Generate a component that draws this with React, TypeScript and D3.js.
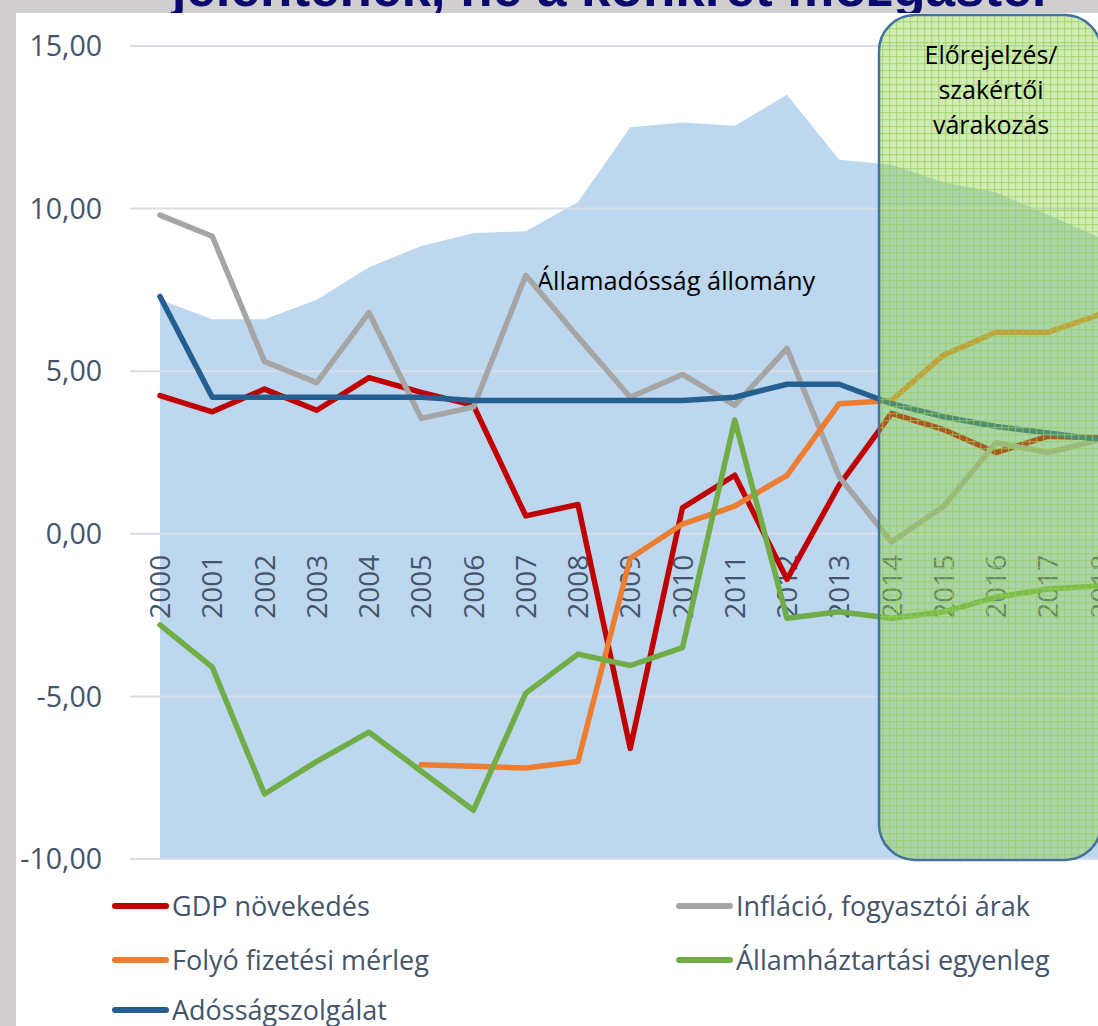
import React from 'react'
import * as d3 from 'd3'

const years = ['2000','2001','2002','2003','2004','2005','2006','2007','2008','2009','2010','2011','2012','2013','2014','2015','2016','2017','2018']

// Államadósság állomány (drawn as area on the same scale)
const debtStock = [7.2, 6.6, 6.6, 7.2, 8.2, 8.85, 9.25, 9.3, 10.2, 12.5, 12.65, 12.55, 13.5, 11.5, 11.35, 10.8, 10.5, 9.8, 9.1]
const gdp = [4.25, 3.75, 4.45, 3.8, 4.8, 4.35, 3.95, 0.55, 0.9, -6.6, 0.8, 1.8, -1.4, 1.5, 3.7, 3.2, 2.5, 3.0, 2.95]
const inflation = [9.8, 9.15, 5.3, 4.65, 6.8, 3.55, 3.9, 7.95, 6.05, 4.2, 4.9, 3.95, 5.7, 1.75, -0.25, 0.85, 2.8, 2.5, 2.9]
const currentAccount = [null, null, null, null, null, -7.1, -7.15, -7.2, -7.0, -0.75, 0.3, 0.85, 1.8, 4.0, 4.1, 5.5, 6.2, 6.2, 6.75]
const budget = [-2.8, -4.1, -8.0, -7.0, -6.1, -7.3, -8.5, -4.9, -3.7, -4.05, -3.5, 3.5, -2.6, -2.4, -2.6, -2.4, -1.95, -1.7, -1.6]
const debtService = [7.3, 4.2, 4.2, 4.2, 4.2, 4.2, 4.1, 4.1, 4.1, 4.1, 4.1, 4.2, 4.6, 4.6, 4.0, 3.6, 3.3, 3.1, 2.9]

const yTicks = [15, 10, 5, 0, -5, -10]

const series = [
  { name: 'GDP növekedés', values: gdp, color: '#C00000' },
  { name: 'Infláció, fogyasztói árak', values: inflation, color: '#A5A5A5' },
  { name: 'Folyó fizetési mérleg', values: currentAccount, color: '#ED7D31' },
  { name: 'Államháztartási egyenleg', values: budget, color: '#70AD47' },
  { name: 'Adósságszolgálat', values: debtService, color: '#255E91' },
]

const W = 1098
const H = 1026
const font = '"Open Sans", "Noto Sans", sans-serif'

export default function App() {
  const x = d3.scalePoint<string>().domain(years).range([160, 160 + 18 * 52.25])
  const y = d3.scaleLinear().domain([-10, 15]).range([859, 46])

  const area = d3.area<number>()
    .x((d, i) => x(years[i])!)
    .y0(y(-10))
    .y1(d => y(d))

  const line = d3.line<number | null>()
    .defined(d => d != null)
    .x((d, i) => x(years[i])!)
    .y(d => y(d as number))

  const fmt = (v: number) => d3.format('.2f')(v).replace('.', ',').replace('−', '-')

  const legendPos = [
    [112, 906], [676, 906], [112, 960], [676, 960], [112, 1010],
  ]

  return (
    <svg width={W} height={H} style={{ display: 'block', position: 'absolute', left: 0, top: 0 }}>
      <defs>
        <pattern id="grid" width="7" height="7" patternUnits="userSpaceOnUse">
          <rect width="7" height="7" fill="rgba(146,208,80,0.42)" />
          <rect x="0" y="0" width="1.2" height="7" fill="rgba(146,208,80,0.6)" />
          <rect x="0" y="0" width="7" height="1.2" fill="rgba(146,208,80,0.6)" />
        </pattern>
      </defs>
      <rect width={W} height={H} fill="#D0CECE" />
      <text x={612} y={6} textAnchor="middle" fontFamily="Liberation Sans, Arial, sans-serif"
        fontWeight="bold" fontSize={53} fill="#0A0A6E">jelentenek, ne a konkrét mozgástér</text>
      <rect x={16} y={13} width={W - 16} height={H - 13} fill="#FFFFFF" />

      <path d={area(debtStock) || ''} fill="#BDD7EE" />

      {yTicks.map(t => (
        <g key={t}>
          <line x1={130} x2={W} y1={y(t)} y2={y(t)} stroke="#D9DEE6" strokeWidth={2} />
          <text x={102} y={y(t)} dy="0.36em" textAnchor="end" fontFamily={font} fontSize={28.5} fill="#44546A">
            {fmt(t)}
          </text>
        </g>
      ))}

      {years.map(yr => (
        <text key={yr} transform={`translate(${x(yr)! + 10},${y(0) + 21}) rotate(-90)`} textAnchor="end"
          fontFamily={font} fontSize={28} fill="#44546A">{yr}</text>
      ))}

      <text x={537} y={290} fontFamily={font} fontSize={25.4} fill="#000">Államadósság állomány</text>

      {series.map(s => (
        <path key={s.name} d={line(s.values) || ''} fill="none" stroke={s.color} strokeWidth={5.5}
          strokeLinejoin="round" strokeLinecap="round" />
      ))}

      <rect x={879} y={15} width={222} height={845} rx={36} ry={36} fill="url(#grid)"
        stroke="#41719C" strokeWidth={2.5} />
      {['Előrejelzés/', 'szakértői', 'várakozás'].map((t, i) => (
        <text key={t} x={991} y={64 + i * 35} textAnchor="middle" fontFamily={font} fontSize={25} fill="#000">{t}</text>
      ))}

      {series.map((s, i) => (
        <g key={s.name} transform={`translate(${legendPos[i][0]},${legendPos[i][1]})`}>
          <line x1={3} x2={54} y1={0} y2={0} stroke={s.color} strokeWidth={6} strokeLinecap="round" />
          <text x={60} y={0} dy="0.36em" fontFamily={font} fontSize={27} fill="#44546A">{s.name}</text>
        </g>
      ))}
    </svg>
  )
}
